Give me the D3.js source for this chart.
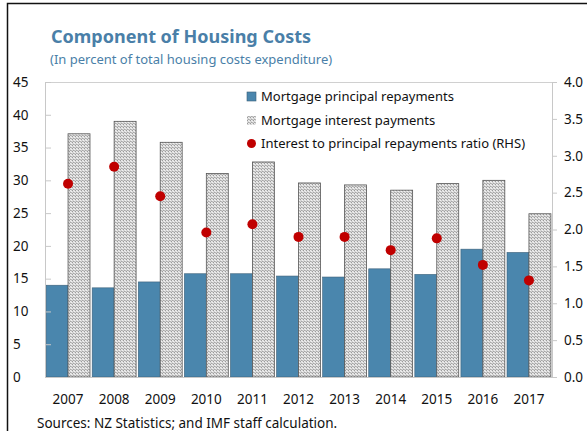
<!DOCTYPE html>
<html>
<head>
<meta charset="utf-8">
<script src="https://cdn.jsdelivr.net/npm/d3@7"></script>
<style>
    body { margin: 0; background: #fff; }
    svg { display: block; font-family: 'Noto Sans', 'Open Sans', sans-serif; }
    svg text, .tick text { font-family: 'Noto Sans', 'Open Sans', sans-serif; font-weight: normal; }
    .tick text { font-size: 13.5px; fill: #111; }
</style>
</head>
<body>
<div id="vis"></div>
<script>
// data
var years = ['2007', '2008', '2009', '2010', '2011', '2012', '2013', '2014', '2015', '2016', '2017'];
var principal = [14.0, 13.6, 14.5, 15.75, 15.75, 15.4, 15.25, 16.5, 15.65, 19.5, 19.0];
var interest = [37.1, 39.0, 35.8, 31.05, 32.8, 29.6, 29.3, 28.5, 29.5, 30.0, 24.9];
var ratio = [2.62, 2.85, 2.45, 1.96, 2.07, 1.90, 1.90, 1.72, 1.88, 1.52, 1.31];
var leftTicks = [0, 5, 10, 15, 20, 25, 30, 35, 40, 45];
var rightTicks = [0, 0.5, 1, 1.5, 2, 2.5, 3, 3.5, 4];
var legendLabels = ['Mortgage principal repayments', 'Mortgage interest payments', 'Interest to principal repayments ratio (RHS)'];

var W = 587, H = 431;
var margin = { left: 45, right: 35, top: 82, bottom: 54 };
var width = W - margin.left - margin.right;
var height = H - margin.top - margin.bottom;

var blue = '#4a86ad';
var red = '#c00000';
var titleBlue = '#4a7fa8';

var svg = d3.select('#vis')
    .append('svg')
    .attr('width', W)
    .attr('height', H);

// stippled fill for interest bars
var defs = svg.append('defs');
var pat = defs.append('pattern')
    .attr('id', 'hatch')
    .attr('patternUnits', 'userSpaceOnUse')
    .attr('width', 3)
    .attr('height', 3);
pat.append('rect').attr('width', 3).attr('height', 3).attr('fill', '#d6d6d6');
var dots = [[0, 0, '#9a9a9a'], [2, 1, '#f2f2f2'], [1, 2, '#a8a8a8'], [1, 0, '#eeeeee'], [2, 2, '#b8b8b8']];
dots.forEach(function (p) {
    pat.append('rect').attr('x', p[0]).attr('y', p[1]).attr('width', 1).attr('height', 1).attr('fill', p[2]);
});

// outer frame
svg.append('rect')
    .attr('x', 7.5).attr('y', 3.5)
    .attr('width', 700).attr('height', 600)
    .attr('fill', 'none')
    .attr('stroke', '#111')
    .attr('stroke-width', 1.5);

/* ****** Titles ****** */
svg.append('text')
    .attr('x', 51).attr('y', 43)
    .attr('fill', titleBlue)
    .style('font-size', '18px')
    .style('font-weight', 'bold')
    .text('Component of Housing Costs');

svg.append('text')
    .attr('x', 50).attr('y', 64)
    .attr('fill', titleBlue)
    .style('font-size', '13px')
    .text('(In percent of total housing costs expenditure)');

var g = svg.append('g')
    .attr('transform', 'translate(' + margin.left + ',' + margin.top + ')');

/* ****** Scales ****** */
var xScale = d3.scaleBand()
    .domain(years)
    .range([0, width]);

var xSub = d3.scaleBand()
    .domain(['p', 'i'])
    .range([0, xScale.bandwidth()])
    .paddingOuter(0.05);

var yScale = d3.scaleLinear()
    .domain([0, 45])
    .range([height, 0]);

var yRight = d3.scaleLinear()
    .domain([0, 4])
    .range([height, 0]);

// plot frame (top line)
g.append('line')
    .attr('x1', 0).attr('x2', width + 1)
    .attr('y1', 0.5).attr('y2', 0.5)
    .attr('stroke', '#d0d0d0');

/* ****** Bars ****** */
g.selectAll('.bar-p')
    .data(years)
    .enter()
    .append('rect')
    .attr('class', 'bar-p')
    .attr('x', function (d) { return xScale(d) + xSub('p'); })
    .attr('width', xSub.bandwidth())
    .attr('y', function (d, i) { return yScale(principal[i]); })
    .attr('height', function (d, i) { return height - yScale(principal[i]); })
    .attr('fill', blue)
    .attr('stroke', '#3a5f78')
    .attr('stroke-width', 0.6);

g.selectAll('.bar-i')
    .data(years)
    .enter()
    .append('rect')
    .attr('class', 'bar-i')
    .attr('x', function (d) { return xScale(d) + xSub('i'); })
    .attr('width', xSub.bandwidth())
    .attr('y', function (d, i) { return yScale(interest[i]); })
    .attr('height', function (d, i) { return height - yScale(interest[i]); })
    .attr('fill', 'url(#hatch)')
    .attr('stroke', '#555')
    .attr('stroke-width', 0.8);

/* ****** Axes ****** */
var yAxis = d3.axisLeft(yScale)
    .tickValues(leftTicks)
    .tickSize(-6)
    .tickPadding(0);

var yAxisG = g.append('g').call(yAxis);
yAxisG.selectAll('.tick text')
    .attr('text-anchor', 'start')
    .attr('x', -32);

var yAxisR = d3.axisRight(yRight)
    .tickValues(rightTicks)
    .tickSize(5)
    .tickPadding(7)
    .tickFormat(d3.format('.1f'));

var yAxisRG = g.append('g')
    .attr('transform', 'translate(' + width + ',0)')
    .call(yAxisR);

var xAxis = d3.axisBottom(xScale)
    .tickSize(0)
    .tickPadding(17);

var xAxisG = g.append('g')
    .attr('transform', 'translate(0,' + height + ')')
    .call(xAxis);

svg.selectAll('.domain').attr('stroke', '#c8c8c8');
svg.selectAll('.tick line').attr('stroke', '#c8c8c8');

/* ****** Ratio dots ****** */
g.selectAll('.dot')
    .data(years)
    .enter()
    .append('circle')
    .attr('class', 'dot')
    .attr('cx', function (d) { return xScale(d) + xScale.bandwidth() / 2; })
    .attr('cy', function (d, i) { return yRight(ratio[i]); })
    .attr('r', 5)
    .attr('fill', red);

/* ****** Legend ****** */
var legend = svg.append('g')
    .attr('transform', 'translate(247,0)');

var rows = legend.selectAll('g')
    .data(legendLabels)
    .enter()
    .append('g')
    .attr('transform', function (d, i) { return 'translate(0,' + (101 + i * 23.5) + ')'; });

rows.append('text')
    .attr('x', 14)
    .attr('y', 0)
    .style('font-size', '13px')
    .attr('fill', '#111')
    .text(function (d) { return d; });

legend.append('rect')
    .attr('x', 0).attr('y', 92)
    .attr('width', 9).attr('height', 9)
    .attr('fill', blue)
    .attr('stroke', '#3a5f78')
    .attr('stroke-width', 0.6);

legend.append('rect')
    .attr('x', 0).attr('y', 116)
    .attr('width', 9).attr('height', 9)
    .attr('fill', 'url(#hatch)');

legend.append('circle')
    .attr('cx', 4.5).attr('cy', 143.5)
    .attr('r', 4.5)
    .attr('fill', red);

/* ****** Source ****** */
svg.append('text')
    .attr('x', 37).attr('y', 428)
    .style('font-size', '13.5px')
    .attr('fill', '#111')
    .text('Sources: NZ Statistics; and IMF staff calculation.');
</script>
</body>
</html>
